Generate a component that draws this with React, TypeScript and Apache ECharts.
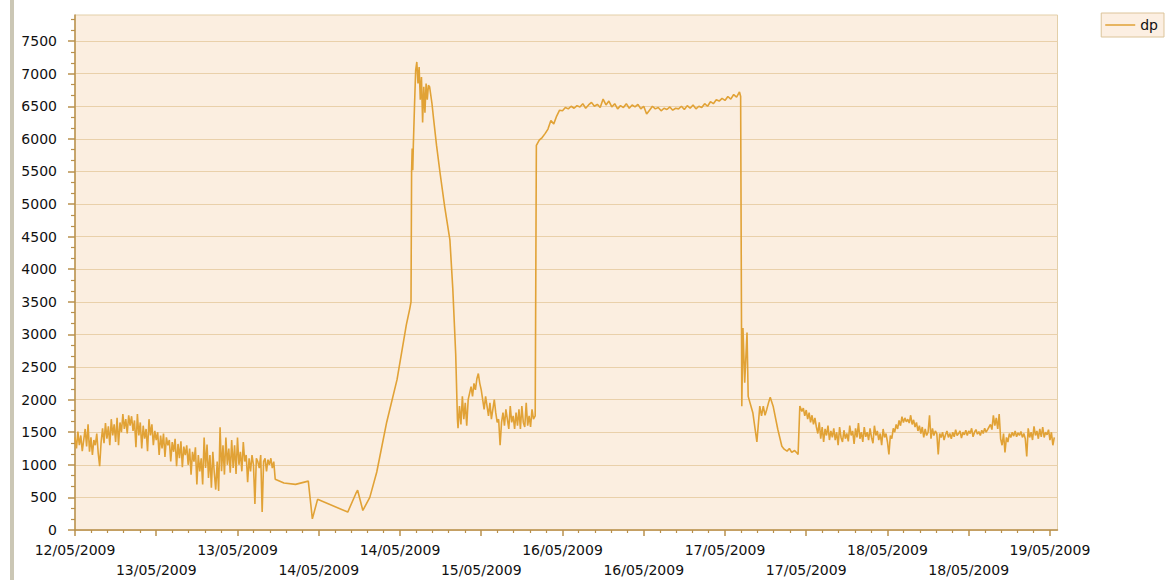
import React, { useEffect, useRef } from "react";
import * as echarts from "echarts";

// ---- axis ticks / labels ----
const xTickHours = [0, 14, 28, 42, 56, 70, 84, 98, 112, 126, 140, 154, 168];
const xTickLabels = [
  "12/05/2009", "13/05/2009", "13/05/2009", "14/05/2009", "14/05/2009", "15/05/2009",
  "16/05/2009", "16/05/2009", "17/05/2009", "17/05/2009", "18/05/2009", "18/05/2009", "19/05/2009",
];
const yTickValues = [0, 500, 1000, 1500, 2000, 2500, 3000, 3500, 4000, 4500, 5000, 5500, 6000, 6500, 7000, 7500];
const seriesName = "dp";

// ---- data: hours since 12/05/2009 00:00 ----
// noisy section sampled every 0.25 h from hour 0
const seg1Start = 0;
const seg1Step = 0.25;
const seg1Values = [
  1420, 1250, 1510, 1300, 1450, 1210, 1380, 1550, 1280, 1620,
  1200, 1420, 1150, 1380, 1300, 1480, 1180, 980, 1350, 1560,
  1330, 1640, 1400, 1590, 1300, 1700, 1450, 1620, 1350, 1720,
  1300, 1650, 1500, 1780, 1550, 1700, 1480, 1760, 1600, 1745,
  1520, 1680, 1270, 1780, 1450, 1650, 1250, 1600, 1400, 1550,
  1210, 1700, 1450, 1620, 1300, 1520, 1380, 1500, 1150, 1450,
  1250, 1480, 1120, 1420, 1300, 1380, 1050, 1350, 1200, 1400,
  980, 1320, 1100, 1360, 965, 1280, 1150, 1300, 1000, 1250,
  850, 1200, 1050, 1270, 700, 1150, 900, 1100, 700, 1420,
  950, 1310, 800, 1150, 650, 1200, 880, 620, 1050, 600,
  1575, 900, 1300, 850, 1420, 1000, 1250, 880, 1380, 950,
  1300, 860, 1420, 1000, 1200, 900, 1350, 1050, 1150, 735,
  1100, 900, 1150, 1000, 400, 1100, 1050, 950, 1150, 275,
  1050, 1100, 900, 1080, 1000, 1100, 950, 1050, 780,
];
const gapPoints: [number, number][] = [
  [36, 720], [38, 700], [40.2, 750], [40.9, 170], [41.8, 470], [47.0, 275],
  [48.4, 560], [48.7, 610], [49.6, 300], [50.8, 500], [52.0, 890], [53.7, 1650],
  [55.5, 2310], [57.1, 3150], [57.7, 3400],
];
const peakPoints: [number, number][] = [
  [57.9, 3500], [58.0, 5500], [58.1, 5850], [58.2, 5520], [58.3, 5900], [58.5, 6500],
  [58.7, 7050], [58.9, 7180], [59.1, 6850], [59.3, 7100], [59.5, 6600], [59.7, 6950],
  [59.9, 6250], [60.1, 6800], [60.3, 6400], [60.5, 6850], [60.7, 6600], [60.9, 6820],
  [61.1, 6800], [61.5, 6550], [61.8, 6300], [62.3, 5900], [62.9, 5480], [63.7, 4960],
  [64.6, 4450], [65.1, 3700], [65.6, 2700], [65.9, 1700],
];
const seg2Start = 66;
const seg2Step = 0.25;
const seg2Values = [
  1560, 1900, 1620, 2050, 1700, 1950, 1600, 2000, 2100, 2200,
  2050, 2250, 2150, 2320, 2400, 2250, 2150, 2000, 1850, 2050,
  1900, 1750, 1950, 1700, 1850, 2000, 1800, 1650, 1700, 1300,
  1650, 1800, 1600, 1850, 1700, 1550, 1900, 1650, 1750, 1550,
  1800, 1600, 1850, 1550, 1900, 1650, 1580, 1950, 1600, 1750,
  1580, 1850, 1700,
];
const plateauStart = 79.5;
const plateauStep = 0.5;
const plateauValues = [
  5900, 5980, 6020, 6080, 6150, 6280, 6230, 6350, 6440, 6430,
  6480, 6460, 6500, 6470, 6510, 6490, 6540, 6470, 6520, 6560,
  6500, 6530, 6480, 6610, 6520, 6580, 6490, 6540, 6460, 6510,
  6480, 6540, 6470, 6520, 6490, 6530, 6460, 6500, 6380, 6440,
  6500, 6460, 6480, 6430, 6470, 6450, 6490, 6440, 6470, 6460,
  6500, 6450, 6510, 6470, 6520, 6460, 6500, 6480, 6540, 6500,
  6570, 6540, 6600, 6580, 6620, 6590, 6650, 6610, 6680, 6640, 6720,
];
const dropPoints: [number, number][] = [
  [114.7, 6650], [114.9, 1900], [115.1, 3100], [115.4, 2260], [115.8, 3030], [116.0, 2050],
  [116.8, 1800], [117.5, 1350], [118.0, 1900], [118.3, 1750], [118.6, 1900], [118.9, 1760],
  [119.2, 1850], [119.5, 1950], [119.8, 2035], [120.3, 1900], [121.1, 1545], [121.8, 1285],
  [122.2, 1240], [122.7, 1210], [123.1, 1250], [123.5, 1190], [124.0, 1220], [124.4, 1180],
  [124.6, 1160], [124.9, 1900],
];
const seg3Start = 125;
const seg3Step = 0.25;
const seg3Values = [
  1900, 1820, 1870, 1750, 1840, 1700, 1800, 1650, 1760, 1620, 1720, 1580,
  1480, 1650, 1400, 1580, 1350, 1550, 1450, 1600, 1380, 1520, 1420,
  1560, 1380, 1500, 1300, 1580, 1420, 1350, 1530, 1400, 1480,
  1360, 1600, 1450, 1520, 1320, 1560, 1420, 1640, 1400, 1500,
  1350, 1580, 1430, 1500, 1380, 1560,
  1420, 1330, 1600, 1450, 1520, 1380, 1480, 1300, 1550, 1420,
  1480, 1350, 1160, 1450, 1400, 1560,
  1500, 1620, 1550, 1680, 1600, 1740, 1650, 1720, 1660, 1700,
  1640, 1760, 1620, 1690, 1580, 1650, 1520, 1600,
  1480, 1580, 1420, 1550, 1450, 1500, 1760, 1400, 1560, 1450, 1520, 1480,
  1160, 1480, 1420, 1500, 1380, 1460, 1520, 1420, 1480, 1400,
  1500, 1430, 1540, 1450, 1480, 1520, 1410, 1500, 1460, 1530,
  1450, 1520, 1480, 1560, 1430, 1500, 1540, 1470, 1510, 1450,
  1530, 1480, 1560, 1500, 1540, 1580,
  1620, 1540, 1760, 1600, 1720, 1550, 1780,
  1400, 1300, 1480, 1190, 1420, 1350,
  1480, 1420, 1500, 1440, 1520, 1430, 1490, 1450, 1510, 1420, 1480, 1400,
  1130,
  1560, 1420, 1500, 1380, 1590, 1450, 1520, 1400, 1550, 1430,
  1580, 1420, 1500, 1460, 1540, 1380, 1500, 1300, 1420,
];

const sampled = (start: number, step: number, vals: number[]): [number, number][] =>
  vals.map((v, i) => [start + i * step, v]);

const seriesData: [number, number][] = [
  ...sampled(seg1Start, seg1Step, seg1Values),
  ...gapPoints,
  ...peakPoints,
  ...sampled(seg2Start, seg2Step, seg2Values),
  [79.3, 1750],
  ...sampled(plateauStart, plateauStep, plateauValues),
  ...dropPoints,
  ...sampled(seg3Start, seg3Step, seg3Values),
];

const X_MAX = 169.3;
const Y_MAX = 7900;

// minor tick positions (5 per major on x, 3 per major on y)
const xMinor: number[] = [];
for (let i = 0; i < xTickHours.length - 1; i++) {
  const a = xTickHours[i], b = xTickHours[i + 1];
  for (let k = 1; k < 5; k++) xMinor.push(a + ((b - a) * k) / 5);
}
const yMinor: number[] = [];
for (let i = 0; i < yTickValues.length; i++) {
  const a = yTickValues[i];
  for (let k = 1; k < 3; k++) {
    const v = a + (500 * k) / 3;
    if (v < Y_MAX) yMinor.push(v);
  }
}

const FONT = "DejaVu Sans";
const AXIS_COLOR = "#b8904c";
const LINE_COLOR = "#e1a236";

export default function App() {
  const ref = useRef<HTMLDivElement>(null);
  useEffect(() => {
    const chart = echarts.init(ref.current!, null, { renderer: "svg" });
    chart.setOption({
      animation: false,
      textStyle: { fontFamily: FONT },
      graphic: [
        { type: "rect", left: 10, top: 0, shape: { width: 4, height: 580 }, style: { fill: "#cbc7b5" } },
      ],
      grid: {
        left: 75,
        right: 110.5,
        top: 15,
        bottom: 49,
        show: true,
        backgroundColor: "#fbeee0",
        borderColor: "#e3cfa8",
        borderWidth: 1,
      },
      legend: {
        right: 4,
        top: 13,
        data: [{ name: seriesName, icon: "rect" }],
        itemWidth: 30,
        itemHeight: 1.5,
        padding: [5, 6, 5, 4],
        backgroundColor: "#fcefe2",
        borderColor: "#dcc49a",
        borderWidth: 1,
        borderRadius: 0,
        textStyle: { fontFamily: FONT, fontSize: 14, color: "#111" },
      },
      xAxis: [
        {
          type: "value",
          min: 0,
          max: X_MAX,
          position: "bottom",
          axisLine: { show: true, lineStyle: { color: AXIS_COLOR, width: 1.5 } },
          axisTick: { show: true, customValues: xTickHours, length: 6, lineStyle: { color: AXIS_COLOR, width: 1.5 } },
          axisLabel: {
            customValues: xTickHours,
            margin: 10,
            fontFamily: FONT,
            fontSize: 14,
            color: "#111",
            lineHeight: 20,
            formatter: (value: number) => {
              const i = xTickHours.indexOf(Math.round(value));
              if (i < 0) return "";
              return i % 2 === 1 ? "\n" + xTickLabels[i] : xTickLabels[i];
            },
          },
          splitLine: { show: false },
        },
        {
          type: "value",
          min: 0,
          max: X_MAX,
          position: "bottom",
          axisLine: { show: false },
          axisTick: { show: true, customValues: xMinor, length: 3, lineStyle: { color: AXIS_COLOR, width: 1.2 } },
          axisLabel: { show: false },
          splitLine: { show: false },
        },
      ],
      yAxis: [
        {
          type: "value",
          min: 0,
          max: Y_MAX,
          position: "left",
          axisLine: { show: true, lineStyle: { color: AXIS_COLOR, width: 1.5 } },
          axisTick: { show: true, customValues: yTickValues, length: 7, lineStyle: { color: AXIS_COLOR, width: 1.5 } },
          axisLabel: {
            customValues: yTickValues,
            margin: 18,
            fontFamily: FONT,
            fontSize: 14,
            color: "#111",
            formatter: (v: number) => String(v),
          },
          splitLine: { show: true, lineStyle: { color: "#e9d0aa", width: 1 } },
        },
        {
          type: "value",
          min: 0,
          max: Y_MAX,
          position: "left",
          axisLine: { show: false },
          axisTick: { show: true, customValues: yMinor, length: 4, lineStyle: { color: AXIS_COLOR, width: 1.2 } },
          axisLabel: { show: false },
          splitLine: { show: false },
        },
      ],
      series: [
        {
          name: seriesName,
          type: "line",
          xAxisIndex: 0,
          yAxisIndex: 0,
          data: seriesData,
          symbol: "none",
          showSymbol: false,
          lineStyle: { color: LINE_COLOR, width: 1.6 },
          itemStyle: { color: LINE_COLOR },
        },
      ],
    });
    return () => chart.dispose();
  }, []);
  return <div ref={ref} style={{ position: "absolute", left: 0, top: 0, width: 1168, height: 580 }} />;
}
